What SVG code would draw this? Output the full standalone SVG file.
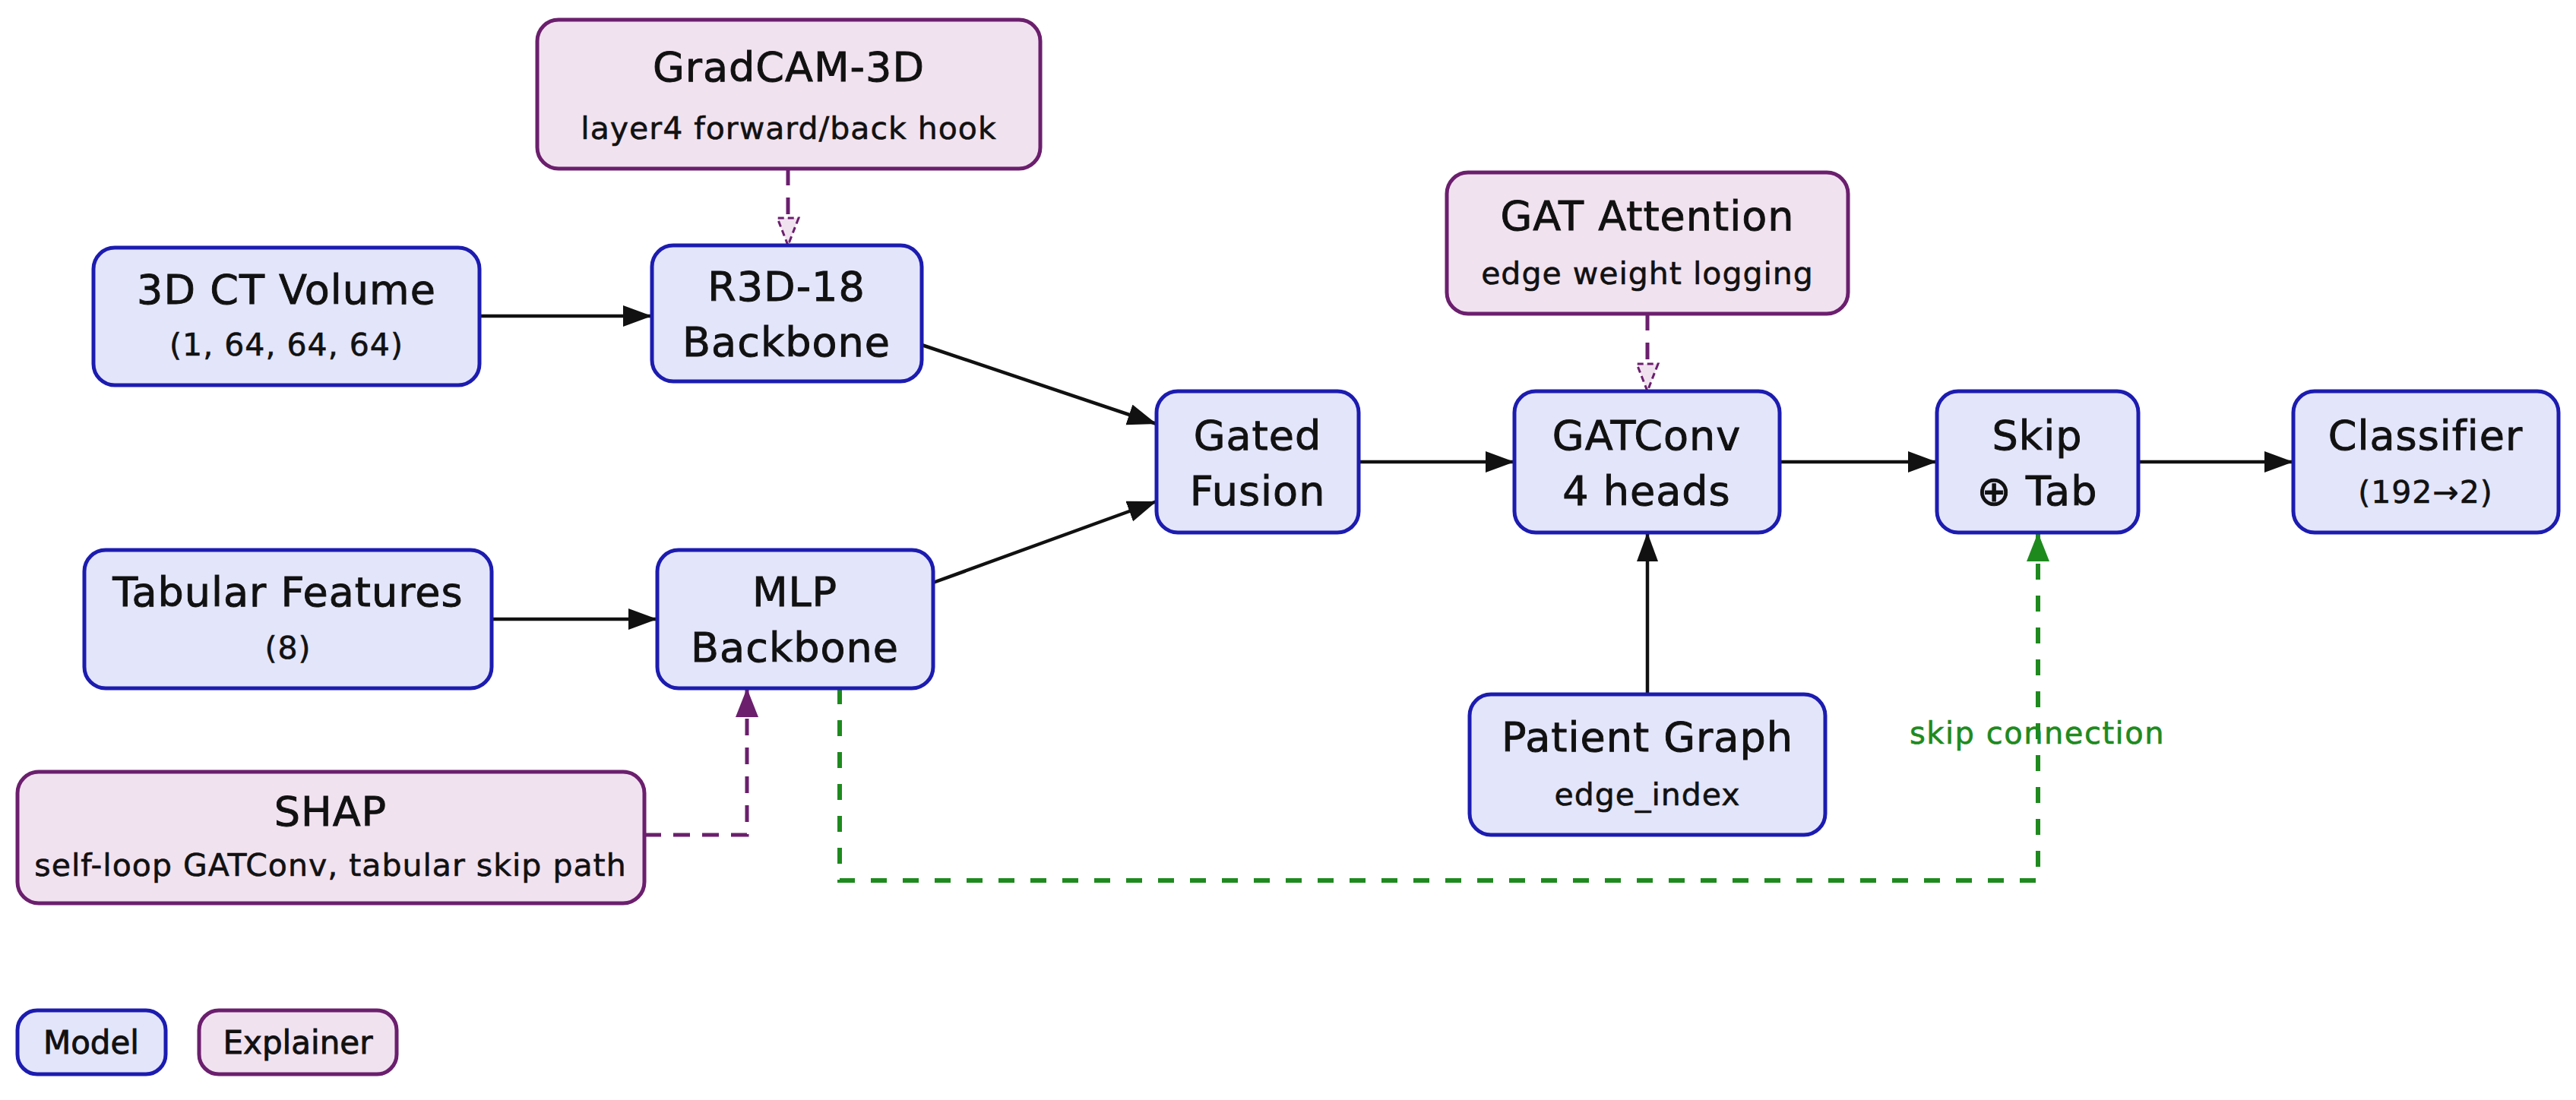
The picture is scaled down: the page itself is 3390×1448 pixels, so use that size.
<svg xmlns="http://www.w3.org/2000/svg" width="3390" height="1448" viewBox="0 0 3390 1448">
<style>
  .model rect { fill: #e3e5fb; stroke: #1c1cb0; stroke-width: 5; }
  .expl rect { fill: #f1e2f0; stroke: #6b1f6d; stroke-width: 5; }
  text { font-family: "DejaVu Sans", "Liberation Sans", sans-serif; fill: #111; stroke: #111; stroke-width: 0.9; text-anchor: middle; }
  .t { font-size: 54px; letter-spacing: 1px; }
  .s { font-size: 41px; letter-spacing: 1px; stroke-width: 0.6; }
  .lg { font-size: 42px; letter-spacing: 0px; }
  .solid { stroke: #111; stroke-width: 4.5; fill: none; marker-end: url(#aBlack); }
  .pdash { stroke: #6b1f6d; stroke-width: 5; fill: none; stroke-dasharray: 22 16; }
  .gdash { stroke: #1e8a1e; stroke-width: 6; fill: none; stroke-dasharray: 21 21; marker-end: url(#aGreen); }
  .glabel { fill: #1e8a1e; stroke: #1e8a1e; stroke-width: 0.6; font-size: 40px; letter-spacing: 1.5px; }
</style>
<defs>
  <marker id="aBlack" markerUnits="userSpaceOnUse" markerWidth="40" markerHeight="30" refX="38" refY="14" orient="auto">
    <path d="M0,0 L38,14 L0,28 z" fill="#111"/>
  </marker>
  <marker id="aGreen" markerUnits="userSpaceOnUse" markerWidth="40" markerHeight="32" refX="38" refY="15" orient="auto">
    <path d="M0,0 L38,15 L0,30 z" fill="#1e8a1e"/>
  </marker>
  <marker id="aPurple" markerUnits="userSpaceOnUse" markerWidth="40" markerHeight="32" refX="38" refY="15" orient="auto">
    <path d="M0,0 L38,15 L0,30 z" fill="#6b1f6d"/>
  </marker>
  <marker id="aPurpleOpen" markerUnits="userSpaceOnUse" markerWidth="42" markerHeight="34" refX="38" refY="16" orient="auto">
    <path d="M2,2 L38,16 L2,30 z" fill="#f1e2f0" stroke="#6b1f6d" stroke-width="3" stroke-dasharray="8 5"/>
  </marker>
</defs>
<rect x="0" y="0" width="3390" height="1448" fill="#ffffff"/>

<g id="connectors">
  <line class="solid" x1="631" y1="416" x2="858" y2="416"/>
  <line class="solid" x1="647" y1="815" x2="865" y2="815"/>
  <line class="solid" x1="1213" y1="454" x2="1522" y2="558"/>
  <line class="solid" x1="1228" y1="767" x2="1522" y2="660"/>
  <line class="solid" x1="1788" y1="608" x2="1993" y2="608"/>
  <line class="solid" x1="2342" y1="608" x2="2549" y2="608"/>
  <line class="solid" x1="2814" y1="608" x2="3018" y2="608"/>
  <line class="solid" x1="2168" y1="914" x2="2168" y2="701"/>
  <line class="pdash" x1="1037" y1="222" x2="1037" y2="323" marker-end="url(#aPurpleOpen)"/>
  <line class="pdash" x1="2168" y1="413" x2="2168" y2="515" marker-end="url(#aPurpleOpen)"/>
  <polyline class="pdash" points="848,1099 983,1099 983,906" marker-end="url(#aPurple)"/>
  <polyline class="gdash" points="1105,906 1105,1159 2682,1159 2682,701"/>
  <text class="glabel" x="2681" y="979">skip connection</text>
</g>

<g id="gradcam" class="expl">
  <rect x="707" y="26" width="662" height="196" rx="28"/>
  <text class="t" x="1038" y="107">GradCAM-3D</text>
  <text class="s" x="1038" y="183">layer4 forward/back hook</text>
</g>
<g id="ct" class="model">
  <rect x="123" y="326" width="508" height="181" rx="28"/>
  <text class="t" x="377" y="400">3D CT Volume</text>
  <text class="s" x="377" y="468">(1, 64, 64, 64)</text>
</g>
<g id="r3d" class="model">
  <rect x="858" y="323" width="355" height="179" rx="28"/>
  <text class="t" x="1035" y="396">R3D-18</text>
  <text class="t" x="1035" y="469">Backbone</text>
</g>
<g id="tabular" class="model">
  <rect x="111" y="724" width="536" height="182" rx="28"/>
  <text class="t" x="379" y="798">Tabular Features</text>
  <text class="s" x="379" y="867">(8)</text>
</g>
<g id="mlp" class="model">
  <rect x="865" y="724" width="363" height="182" rx="28"/>
  <text class="t" x="1046" y="798">MLP</text>
  <text class="t" x="1046" y="871">Backbone</text>
</g>
<g id="shap" class="expl">
  <rect x="23" y="1016" width="825" height="173" rx="28"/>
  <text class="t" x="435" y="1087">SHAP</text>
  <text class="s" x="435" y="1153">self-loop GATConv, tabular skip path</text>
</g>
<g id="fusion" class="model">
  <rect x="1522" y="515" width="266" height="186" rx="28"/>
  <text class="t" x="1655" y="592">Gated</text>
  <text class="t" x="1655" y="665">Fusion</text>
</g>
<g id="gatatt" class="expl">
  <rect x="1904" y="227" width="528" height="186" rx="28"/>
  <text class="t" x="2168" y="303">GAT Attention</text>
  <text class="s" x="2168" y="374">edge weight logging</text>
</g>
<g id="gatconv" class="model">
  <rect x="1993" y="515" width="349" height="186" rx="28"/>
  <text class="t" x="2167" y="592">GATConv</text>
  <text class="t" x="2167" y="665">4 heads</text>
</g>
<g id="skip" class="model">
  <rect x="2549" y="515" width="265" height="186" rx="28"/>
  <text class="t" x="2681" y="592">Skip</text>
  <text class="t" x="2681" y="665">⊕ Tab</text>
</g>
<g id="classifier" class="model">
  <rect x="3018" y="515" width="349" height="186" rx="28"/>
  <text class="t" x="3192" y="592">Classifier</text>
  <text class="s" x="3192" y="662">(192→2)</text>
</g>
<g id="graph" class="model">
  <rect x="1934" y="914" width="468" height="185" rx="28"/>
  <text class="t" x="2168" y="989">Patient Graph</text>
  <text class="s" x="2168" y="1060">edge_index</text>
</g>
<g id="legend-model" class="model">
  <rect x="23" y="1330" width="195" height="84" rx="26"/>
  <text class="lg" x="120" y="1387">Model</text>
</g>
<g id="legend-explainer" class="expl">
  <rect x="262" y="1330" width="260" height="84" rx="26"/>
  <text class="lg" x="392" y="1387">Explainer</text>
</g>
</svg>
